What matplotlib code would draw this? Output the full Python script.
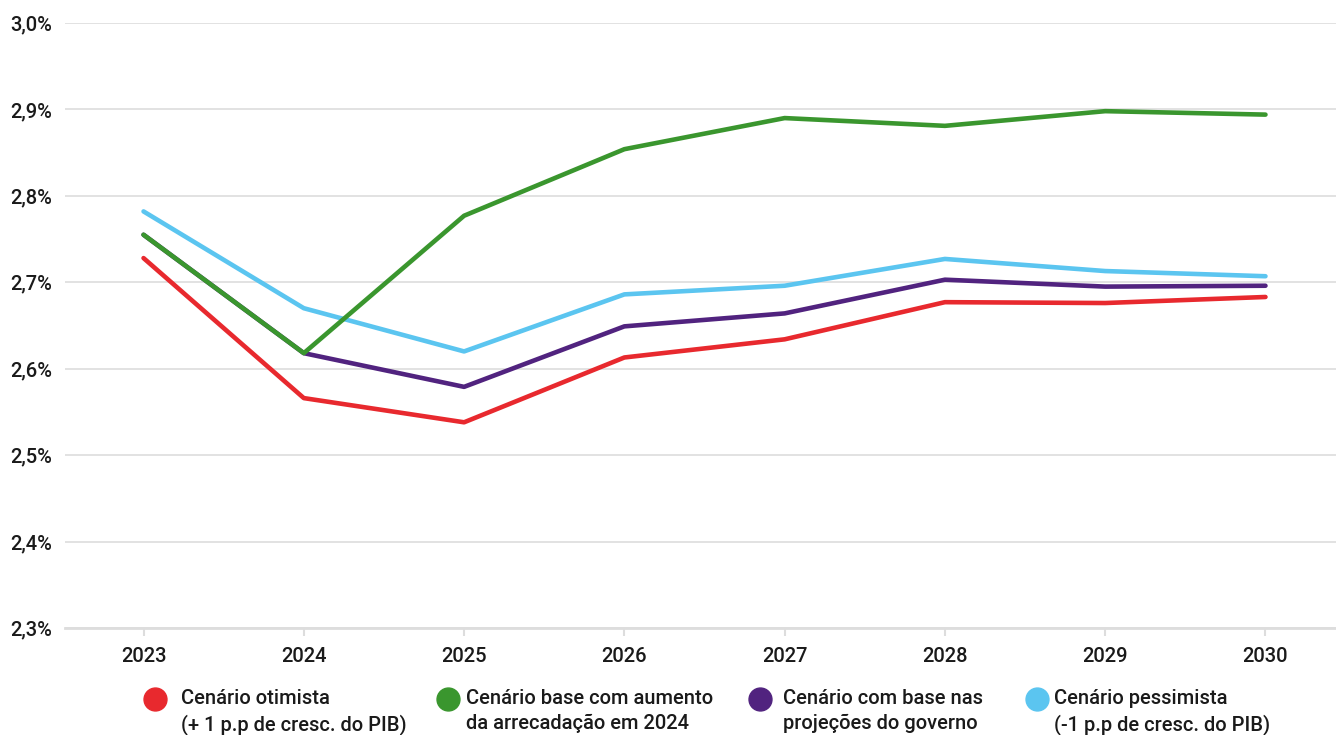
import numpy as np
import matplotlib.pyplot as plt
from matplotlib.lines import Line2D
from matplotlib.ticker import FuncFormatter

plt.rcParams['font.family'] = ['Roboto', 'DejaVu Sans']

anos = [2023, 2024, 2025, 2026, 2027, 2028, 2029, 2030]
otimista = [2.728, 2.566, 2.538, 2.613, 2.634, 2.677, 2.676, 2.683]
base_arrec = [2.755, 2.618, 2.777, 2.854, 2.890, 2.881, 2.898, 2.894]
governo = [2.755, 2.618, 2.579, 2.649, 2.664, 2.703, 2.695, 2.696]
pessimista = [2.782, 2.670, 2.620, 2.686, 2.696, 2.727, 2.713, 2.707]

nomes = ['Cenário otimista\n(+ 1 p.p de cresc. do PIB)',
         'Cenário base com aumento\nda arrecadação em 2024',
         'Cenário com base nas\nprojeções do governo',
         'Cenário pessimista\n(-1 p.p de cresc. do PIB)']
cores = ['#e8292e', '#3a962e', '#51237f', '#5bc5f0']

W, H = 1336, 735
fig = plt.figure(figsize=(W / 100, H / 100), dpi=100)
ax = fig.add_axes([65 / W, 1 - 628 / H, 1 - 65 / W, (628 - 23) / H])

# verde por cima do roxo no trecho 2023-2024
ax.plot(anos, pessimista, color=cores[3], lw=3.3, solid_capstyle='round', zorder=3)
ax.plot(anos, otimista, color=cores[0], lw=3.3, solid_capstyle='round', zorder=3)
ax.plot(anos, governo, color=cores[2], lw=3.3, solid_capstyle='round', zorder=3)
ax.plot(anos, base_arrec, color=cores[1], lw=3.3, solid_capstyle='round', zorder=4)

ax.set_xlim(2022.51, 2030.44)
ax.set_ylim(2.3, 3.0)
ax.set_yticks(np.arange(2.3, 3.001, 0.1))
ax.set_xticks(anos)
ax.yaxis.set_major_formatter(FuncFormatter(lambda v, p: f'{v:.1f}%'.replace('.', ',')))

ax.grid(axis='y', color='#dddddd', lw=1.2)
ax.set_axisbelow(True)
for s in ['top', 'right', 'left']:
    ax.spines[s].set_visible(False)
ax.spines['bottom'].set_color('#dddddd')
ax.spines['bottom'].set_linewidth(2)

ax.tick_params(axis='y', length=0, pad=9, labelsize=14.5, labelcolor='#1a1a1a')
ax.tick_params(axis='x', length=6, width=1.5, color='#dddddd', pad=8,
               labelsize=14.5, labelcolor='#1a1a1a')
for lab in ax.get_xticklabels() + ax.get_yticklabels():
    lab.set_fontweight('medium')

# legenda manual
marca_x = [155, 448, 760, 1037]
texto_x = [181, 466, 783, 1054]
for mx, tx, nome, c in zip(marca_x, texto_x, nomes, cores):
    fig.add_artist(Line2D([mx / W], [1 - 699 / H], marker='o', ls='none',
                          markersize=16.5, markerfacecolor=c, markeredgecolor=c,
                          transform=fig.transFigure))
    fig.text(tx / W, 1 - 689 / H, nome, ha='left', va='top', fontsize=14.5,
             fontweight='medium', color='#1a1a1a', linespacing=1.38)

fig.savefig('out.png', dpi=100)
